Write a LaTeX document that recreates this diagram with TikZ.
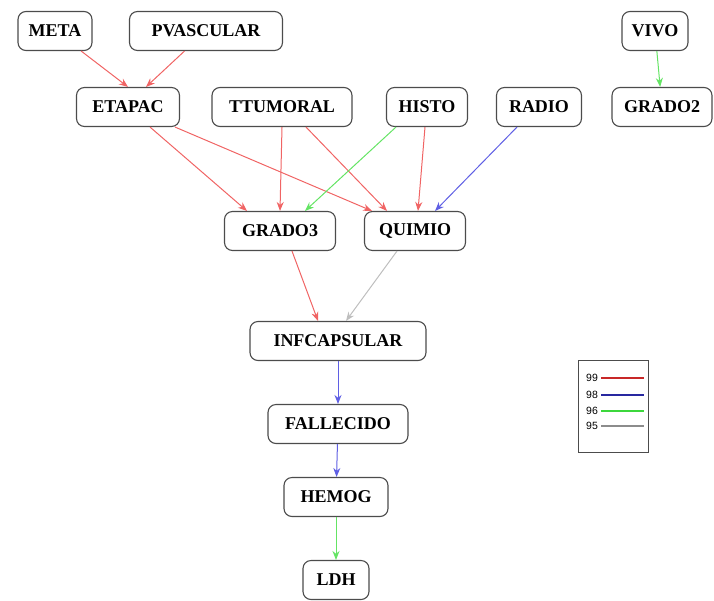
\documentclass[tikz,border=0pt]{standalone}
\usepackage{fontspec}
\setmainfont{Liberation Serif}
\newfontfamily\legfont{Liberation Sans}
\usetikzlibrary{arrows.meta}
\definecolor{ered}{RGB}{240,100,100}
\definecolor{egreen}{RGB}{100,228,100}
\definecolor{eblue}{RGB}{95,95,228}
\definecolor{egray}{RGB}{190,190,190}
\definecolor{lred}{RGB}{200,40,40}
\definecolor{lblue}{RGB}{40,40,160}
\definecolor{lgreen}{RGB}{60,215,60}
\definecolor{lgray}{RGB}{140,140,140}
\tikzset{
  var/.style={draw=black!70, line width=1.1pt, rounded corners=8pt, fill=white,
    minimum height=39pt, inner xsep=6pt, font=\fontsize{18}{20}\selectfont\bfseries},
  edge/.style={line width=1pt, -{Stealth[length=9pt,width=7pt]}},
  r/.style={edge, draw=ered},
  g/.style={edge, draw=egreen},
  b/.style={edge, draw=eblue},
  k/.style={edge, draw=egray},
  leg/.style={line width=2pt},
}
\begin{document}
\begin{tikzpicture}[x=1pt,y=-1pt]
\useasboundingbox (0,0) rectangle (714,600);
\node[var, minimum width=74pt] (meta) at (55,31) {META};
\node[var, minimum width=153pt] (pvas) at (206,31) {PVASCULAR};
\node[var, minimum width=66pt] (vivo) at (655,31) {VIVO};
\node[var, minimum width=103pt] (etapac) at (128,107) {ETAPAC};
\node[var, minimum width=140pt] (ttum) at (282,107) {TTUMORAL};
\node[var, minimum width=81pt] (histo) at (427,107) {HISTO};
\node[var, minimum width=85pt] (radio) at (539,107) {RADIO};
\node[var, minimum width=100pt] (grado2) at (662,107) {GRADO2};
\node[var, minimum width=111pt] (grado3) at (280,231) {GRADO3};
\node[var, minimum width=101pt] (quimio) at (415,231) {QUIMIO};
\node[var, minimum width=176pt] (infc) at (338,341) {INFCAPSULAR};
\node[var, minimum width=140pt] (fall) at (338,424) {FALLECIDO};
\node[var, minimum width=104pt] (hemog) at (336,497) {HEMOG};
\node[var, minimum width=66pt] (ldh) at (336,580) {LDH};

\draw[r] (meta) -- (etapac.north);
\draw[r] (pvas) -- ([xshift=18pt]etapac.north);
\draw[g] (vivo) -- (grado2);
\draw[r] ([xshift=22pt]etapac.south) -- ([xshift=-33pt]grado3.north);
\draw[r] ([xshift=47pt]etapac.south) -- ([xshift=-43pt]quimio.north);
\draw[r] (ttum.south) -- (grado3.north);
\draw[r] ([xshift=24pt]ttum.south) -- ([xshift=-28pt]quimio.north);
\draw[g] ([xshift=-31pt]histo.south) -- ([xshift=25pt]grado3.north);
\draw[r] ([xshift=-2pt]histo.south) -- ([xshift=3pt]quimio.north);
\draw[b] ([xshift=-22pt]radio.south) -- ([xshift=20pt]quimio.north);
\draw[r] ([xshift=12pt]grado3.south) -- ([xshift=-20pt]infc.north);
\draw[k] ([xshift=-18pt]quimio.south) -- ([xshift=8pt]infc.north);
\draw[b] (infc) -- (fall);
\draw[b] (fall) -- (hemog);
\draw[g] (hemog) -- (ldh);

\node[draw=black!70, line width=1pt, minimum width=70pt, minimum height=92pt] (legbox) at (613,406) {};
\begin{scope}[font=\legfont\fontsize{10.5}{12}\selectfont]
\node (l99) at (592,378) {99};
\node (l98) at (592,395) {98};
\node (l96) at (592,411) {96};
\node (l95) at (592,426) {95};
\coordinate (e99) at (644,378);
\coordinate (e98) at (644,395);
\coordinate (e96) at (644,411);
\coordinate (e95) at (644,426);
\draw[leg, lred] (l99.east) -- (e99);
\draw[leg, lblue] (l98.east) -- (e98);
\draw[leg, lgreen] (l96.east) -- (e96);
\draw[leg, lgray, line width=1.2pt] (l95.east) -- (e95);
\end{scope}
\end{tikzpicture}
\end{document}
